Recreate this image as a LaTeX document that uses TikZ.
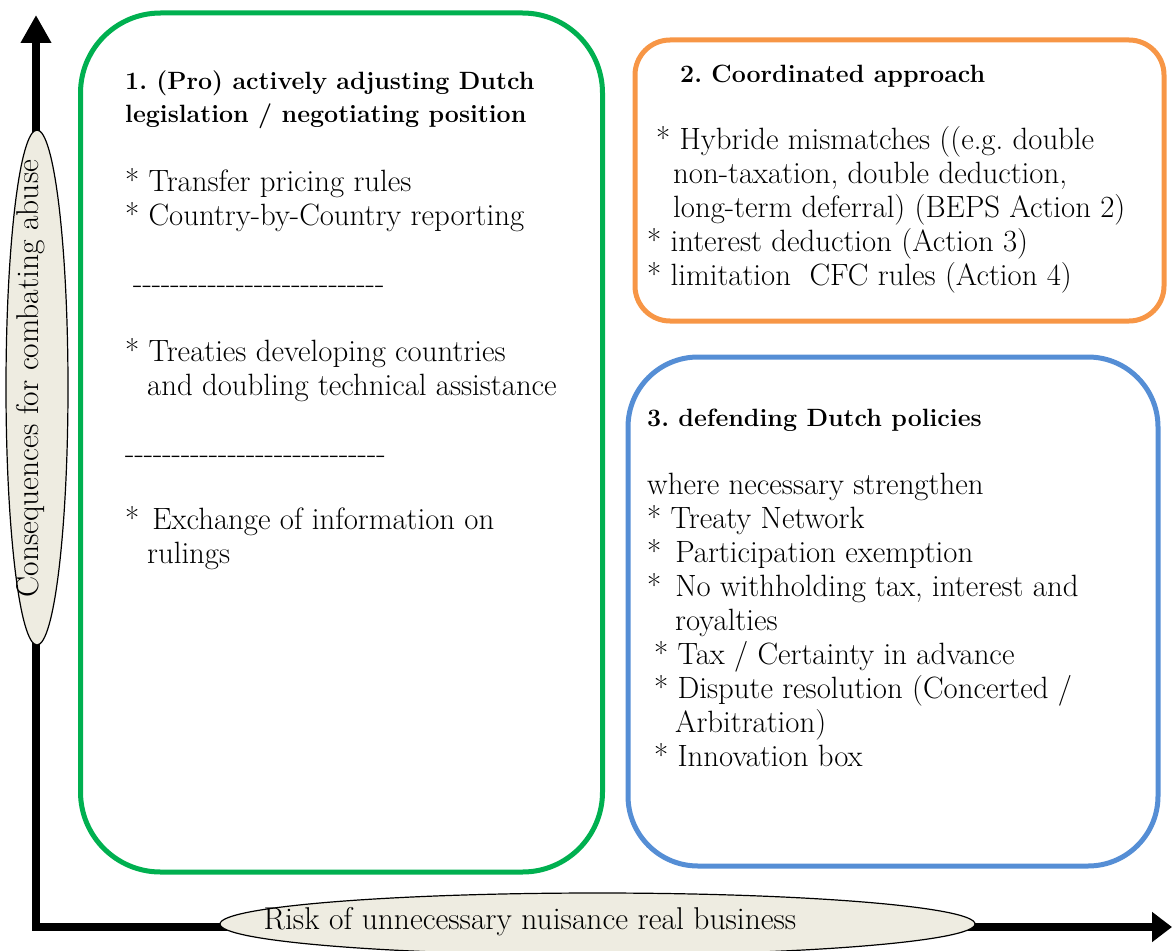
\documentclass[tikz,border=0pt]{standalone}
\usepackage{tikz}
\usetikzlibrary{arrows.meta, shapes.geometric}
\usepackage{xcolor}

\definecolor{boxgreen}{HTML}{00B050}
\definecolor{boxorange}{HTML}{F79646}
\definecolor{boxblue}{HTML}{558ED5}
\definecolor{lblfill}{HTML}{EEECE1}

\tikzset{
    panel/.style={rectangle, draw=#1, line width=5pt, inner sep=0pt},
    bodytext/.style={anchor=north west, inner sep=0pt, align=left, font=\fontsize{30.8}{34}\selectfont\frenchspacing},
    headtext/.style={anchor=north west, inner sep=0pt, align=left, font=\fontsize{25}{33}\selectfont\bfseries\frenchspacing},
    axislabel/.style={ellipse, draw, line width=1.2pt, fill=lblfill, inner sep=0pt},
    axistext/.style={inner sep=0pt, font=\fontsize{31.5}{34}\selectfont},
    axis/.style={line width=8pt, line join=miter},
}
\newcommand{\hyphenrow}[1]{\foreach \k in {1,...,#1}{-}}

\begin{document}
\begin{tikzpicture}[x=1pt, y=-1pt]
    \useasboundingbox (0,0) rectangle (1172,950);

    % Axes
    \coordinate (O) at (36, 927);
    \coordinate (Ytip) at (36, 15);
    \coordinate (Xtip) at (1172, 927);
    \draw[axis, {Triangle[length=28pt, width=29pt]}-{Triangle[length=20pt, width=29pt]}] (Ytip) -- (O) -- (Xtip);

    % Axis labels
    \node[axislabel, minimum width=62pt, minimum height=515pt] (ylbl) at (37, 387.5) {};
    \node[axistext, rotate=90] (ytxt) at (31, 378.5) {Consequences for combating abuse};
    \node[axislabel, minimum width=755pt, minimum height=62pt] (xlbl) at (597.5, 924) {};
    \node[axistext] (xtxt) at (530, 922) {Risk of unnecessary nuisance real business};

    % Panels
    \node[panel=boxgreen, rounded corners=80pt, minimum width=522pt, minimum height=859pt] (pro) at (341.5, 442.5) {};
    \node[panel=boxorange, rounded corners=35pt, minimum width=529pt, minimum height=281pt] (coord) at (899.5, 180.5) {};
    \node[panel=boxblue, rounded corners=70pt, minimum width=530pt, minimum height=509pt] (defend) at (893, 611.5) {};

    % Panel 1
    \node[headtext] (prohead) at (125, 66) {\strut 1. (Pro) actively adjusting Dutch\\legislation / negotiating position};
    \node[bodytext] (proa) at (125, 167) {\strut * Transfer pricing rules\\* Country-by-Country reporting};
    \node[bodytext] (prosepa) at (133, 269) {\strut\hyphenrow{27}};
    \node[bodytext] (prob) at (125, 337) {\strut * Treaties developing countries\\\hspace*{22pt}and doubling technical assistance};
    \node[bodytext] (prosepb) at (125, 439) {\strut\hyphenrow{28}};
    \node[bodytext] (proc) at (125, 505) {\strut *\hspace{13pt}Exchange of information on\\\hspace*{22pt}rulings};

    % Panel 2
    \node[headtext] (coordhead) at (680, 59) {\strut 2. Coordinated approach};
    \node[bodytext] (coorda) at (647, 125) {\strut\hspace*{9pt}* Hybride mismatches ((e.g. double\\
        \hspace*{26pt}non-taxation, double deduction,\\
        \hspace*{26pt}long-term deferral) (BEPS Action 2)\\
        * interest deduction (Action 3)\\
        * limitation\ \ CFC rules (Action 4)};

    % Panel 3
    \node[headtext] (defhead) at (647, 403) {\strut 3. defending Dutch policies};
    \node[bodytext] (defa) at (647, 470) {\strut where necessary strengthen\\
        * Treaty Network\\
        *\hspace{14pt}Participation exemption\\
        *\hspace{14pt}No withholding tax, interest and\\
        \hspace*{28pt}royalties\\
        \hspace*{7pt}* Tax / Certainty in advance\\
        \hspace*{7pt}* Dispute resolution (Concerted /\\
        \hspace*{28pt}Arbitration)\\
        \hspace*{7pt}* Innovation box};

\end{tikzpicture}
\end{document}
